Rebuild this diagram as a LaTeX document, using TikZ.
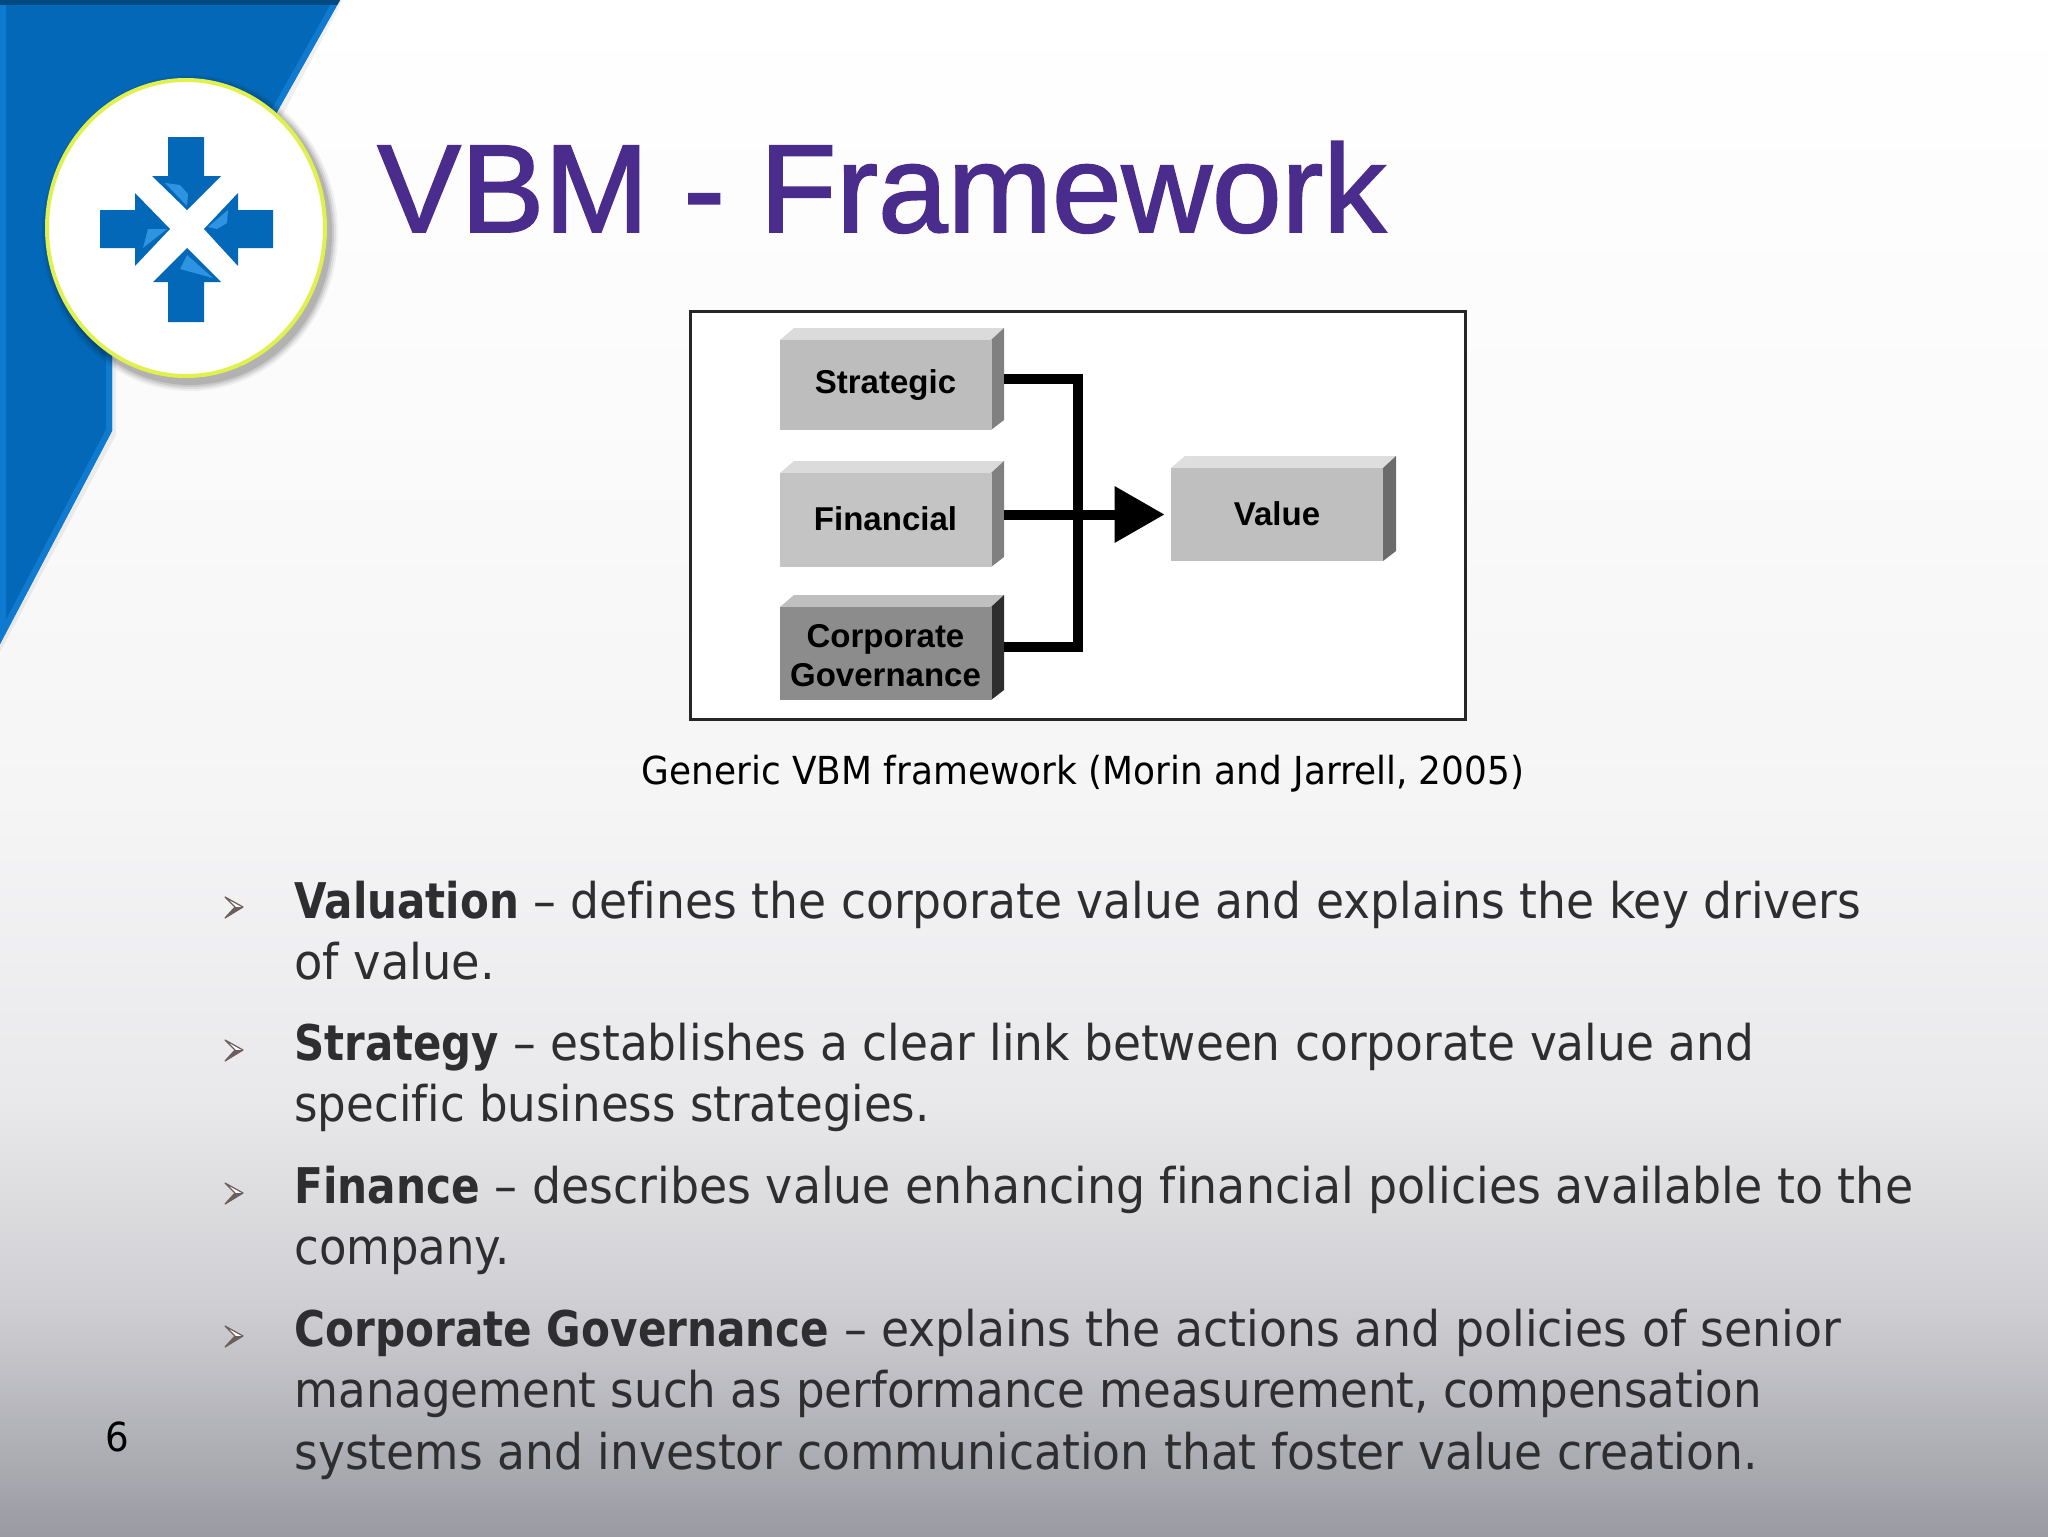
\documentclass[tikz,border=0pt]{standalone}
\usepackage{fontspec}
\usepackage{graphicx}
\usetikzlibrary{arrows.meta}
\setmainfont{DejaVu Sans}[FakeStretch=0.93,Ligatures=NoCommon,BoldFeatures={FakeStretch=0.857}]
\newfontfamily\arialfont{Liberation Sans}
\newfontfamily\titlefont{Liberation Sans}[FakeBold=1.5]
\definecolor{bluemain}{HTML}{0468B8}
\definecolor{blueedge}{HTML}{0E7AD0}
\definecolor{bluelite}{HTML}{2E94E2}
\definecolor{ringcol}{HTML}{E0F04C}
\definecolor{titlecol}{HTML}{4A2C8C}
\definecolor{bodytext}{HTML}{2E2E30}
\definecolor{bulletdark}{HTML}{6B5F5C}
\definecolor{slideA}{HTML}{9A9BA2}
\definecolor{slideB}{HTML}{D0D0D4}
\definecolor{slideC}{HTML}{E9E9EB}
\definecolor{slideD}{HTML}{F5F5F6}
\definecolor{slideE}{HTML}{FBFBFC}
\definecolor{slideF}{HTML}{FFFFFF}
\pgfdeclareverticalshading{slidebg}{100bp}{
 color(0bp)=(slideA);color(25bp)=(slideA);color(32.7bp)=(slideB);color(39.2bp)=(slideC);
 color(49bp)=(slideD);color(62bp)=(slideE);color(75bp)=(slideF);color(100bp)=(slideF)}
\tikzset{
 frontface/.style={inner sep=0pt,minimum width=106pt,minimum height=47pt,text=black,align=center,
   font=\arialfont\bfseries\fontsize{16.5}{20}\selectfont},
 wire/.style={line width=5pt,black},
 bodypara/.style={anchor=base west,inner sep=0pt,align=left,text=bodytext,
   font=\fontsize{24.6}{30.7}\selectfont},
 arrowbullet/.pic={
   \fill[white] (0,-10)--(18,0)--(10,0)--cycle;
   \fill[bulletdark] (0,11)--(18,0)--(10,0)--cycle;
   \draw[bulletdark,line width=0.6pt,line join=round] (0,-10)--(18,0)--(0,11)--(10,0)--cycle;
 }
}
\newcommand{\blockfaces}[6]{% x0,x1,ytop,ybot,top,side colours
 \fill[#5] (#1,#3)--(#1+14,#3-12)--(#2+13,#3-12)--(#2,#3)--cycle;
 \fill[#6] (#2,#3)--(#2+13,#3-12)--(#2+13,#4-10)--(#2,#4)--cycle;
}
\newcommand{\fitx}[2]{\scalebox{#1}[1]{#2}}
\newcommand{\nudge}[2]{\raisebox{#1}[\height][\depth]{#2}}
\begin{document}
\begin{tikzpicture}[x=0.5pt,y=-0.5pt]
\useasboundingbox (0,0) rectangle (2048,1536);
\shade[shading=slidebg] (0,0) rectangle (2048,1536);
% blue banner
\fill[black,opacity=.06] (343,0)--(283,114)--(116,360)--(116,435)--(0,652)--(0,0)--cycle;
\begin{scope}
 \clip (0,0)--(340,0)--(277,112)--(186,228)--(112,350)--(112,431)--(0,644)--cycle;
 \fill[bluemain] (0,0) rectangle (340,644);
 \draw[blueedge,line width=6pt] (0,0)--(0,644)--(112,431)--(112,350)--(186,228)--(277,112)--(340,0);
 \fill[bluemain!70!black] (0,0) rectangle (340,5);
\end{scope}
% badge
\foreach \s/\o in {8/.05,6/.07,4/.09,2/.11}{
 \fill[black,opacity=\o] (190,233) ellipse [x radius=140+\s,y radius=150+\s];}
\filldraw[fill=white,draw=ringcol,line width=2pt] (186,228) ellipse [x radius=139,y radius=148];
\fill[bluemain] (168,137)--(204,137)--(204,176)--(221,176)--(187,210)--(152,176)--(168,176)--cycle;
\fill[bluemain] (168,322)--(204,322)--(204,282)--(221,282)--(187,248)--(153,282)--(168,282)--cycle;
\fill[bluemain] (100,210)--(135,210)--(135,193)--(170,229)--(135,266)--(135,248)--(100,248)--cycle;
\fill[bluemain] (273,210)--(238,210)--(238,193)--(204,229)--(238,266)--(238,248)--(273,248)--cycle;
\fill[bluelite] (165,183)--(180,185)--(188,194)--(187,206)--cycle;
\fill[bluelite] (187,255)--(180,269)--(213,278)--cycle;
\fill[bluelite] (143,248)--(148,229)--(167,229)--cycle;
\fill[bluelite] (208,227)--(228,210)--(227,223)--(217,229)--cycle;
% title
\node[anchor=base west,inner sep=0pt,text=titlecol,font=\titlefont\fontsize{62.6}{70}\selectfont] (title) at (377,232) {VBM - Framework};
% figure
\node[draw=black!85,fill=white,line width=1.6pt,inner sep=0pt,minimum width=387.5pt,minimum height=204pt] (figbox) at (1078,515.5) {};
\blockfaces{780}{991}{340}{430}{black!14}{black!50}
\blockfaces{780}{991}{473}{567}{black!14}{black!50}
\blockfaces{780}{991}{607}{700}{black!25}{black!82}
\blockfaces{1171}{1383}{468}{561}{black!13}{black!58}
\node[frontface,fill=black!26,minimum height=45pt] (strategic) at (885.5,385) {Strategic};
\node[frontface,fill=black!23] (financial) at (885.5,520) {\nudge{0.5pt}{Financial}};
\node[frontface,fill=black!45,minimum height=46.5pt] (corporate) at (885.5,653.5) {\nudge{-1.2pt}{Corporate}\\[-0.5pt]\nudge{-1.2pt}{Governance}};
\node[frontface,fill=black!25,minimum height=46.5pt] (value) at (1277,514.5) {\nudge{0.5pt}{Value}};
\coordinate (strategicR) at (1004,379);
\coordinate (financialR) at (1004,514.5);
\coordinate (corporateR) at (1004,647);
\coordinate (busX) at (1078,514);
\draw[wire,line cap=butt] (strategicR) -| (busX) |- (corporateR);
\draw[wire,-{Triangle[length=25pt,width=27pt]},shorten >=3pt] (financialR) -- (value.west);
\node[anchor=base,inner sep=0pt,text=black,font=\fontsize{19.3}{24}\selectfont] (caption) at (1083,784) {Generic VBM framework (Morin and Jarrell, 2005)};
% bullets
\path (225,907) pic {arrowbullet};
\path (225,1050) pic {arrowbullet};
\path (225,1193) pic {arrowbullet};
\path (225,1336) pic {arrowbullet};
\node[bodypara] (p1) at (294,918.5) {\fitx{.9967}{\textbf{Valuation} – defines the corporate value and explains the key drivers}};
\node[bodypara] (p1b) at (294,979.5) {\fitx{1.013}{of value.}};
\node[bodypara] (p2) at (294,1060.5) {\fitx{.993}{\textbf{Strategy} – establishes a clear link between corporate value and}};
\node[bodypara] (p2b) at (294,1121.5) {\fitx{.986}{specific business strategies.}};
\node[bodypara] (p3) at (294,1203) {\fitx{1.002}{\textbf{Finance} – describes value enhancing financial policies available to the}};
\node[bodypara] (p3b) at (294,1264) {\fitx{.982}{company.}};
\node[bodypara] (p4) at (294,1346.5) {\textbf{Corporate Governance} – explains the actions and policies of senior};
\node[bodypara] (p4b) at (294,1407.5) {\fitx{.986}{management such as performance measurement, compensation}};
\node[bodypara] (p4c) at (294,1469.5) {\fitx{.9964}{systems and investor communication that foster value creation.}};
\node[anchor=base,inner sep=0pt,text=black,font=\fontsize{20}{24}\selectfont] (pagenum) at (117,1451) {6};
\end{tikzpicture}
\end{document}
